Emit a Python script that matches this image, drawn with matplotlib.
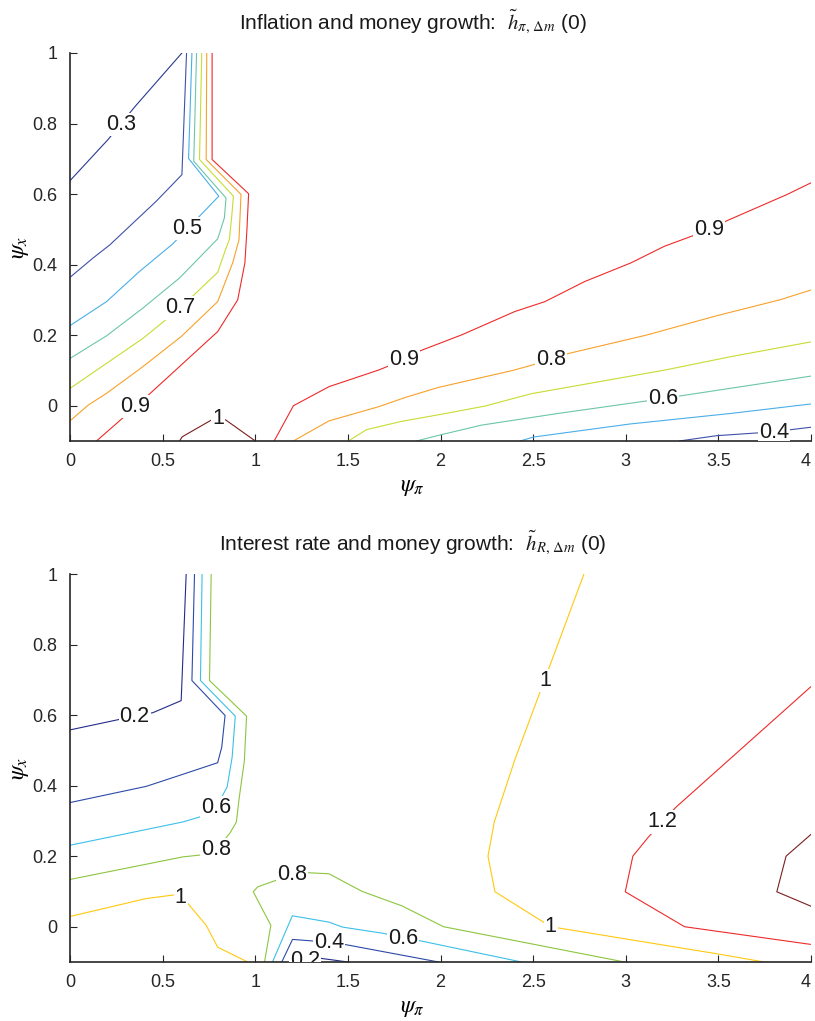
import matplotlib
matplotlib.use('Agg')
import matplotlib.pyplot as plt

plt.rcParams['font.family'] = ['Liberation Sans', 'DejaVu Sans']
plt.rcParams['mathtext.fontset'] = 'stix'

# ---- top panel: inflation and money growth, contour lines
top_levels = [0.3, 0.4, 0.5, 0.6, 0.7, 0.8, 0.9, 1.0]
top_colors = ['#2b3990', '#3f51a8', '#4aaee8', '#6cc6a8', '#c8dc32', '#f9a12a', '#ee2a2a', '#7b1f1f']

top_03_x = [0, 0.206, 0.349, 0.604]
top_03_y = [0.638, 0.755, 0.847, 1.0]
top_04a_x = [0.629, 0.604, 0.466, 0.215, 0.125, 0]
top_04a_y = [1.0, 0.655, 0.58, 0.456, 0.419, 0.364]
top_04b_x = [3.29, 3.49, 3.8, 3.89, 4.0]
top_04b_y = [-0.1, -0.085, -0.074, -0.068, -0.061]
top_05a_x = [0.658, 0.640, 0.803, 0.717, 0.633, 0.555, 0.376, 0.197, 0]
top_05a_y = [1.0, 0.701, 0.594, 0.547, 0.502, 0.459, 0.381, 0.295, 0.227]
top_05b_x = [2.43, 2.5, 3.02, 3.566, 4.0]
top_05b_y = [-0.1, -0.089, -0.052, -0.022, 0.005]
top_06a_x = [0.683, 0.668, 0.842, 0.833, 0.797, 0.591, 0.394, 0.197, 0]
top_06a_y = [1.0, 0.693, 0.589, 0.532, 0.473, 0.362, 0.277, 0.198, 0.134]
top_06b_x = [1.87, 2.005, 2.222, 2.634, 3.2, 3.297, 4.0]
top_06b_y = [-0.1, -0.082, -0.055, -0.022, 0.02, 0.028, 0.084]
top_07a_x = [0.711, 0.699, 0.882, 0.873, 0.86, 0.839, 0.797, 0.595, 0.394, 0.197, 0]
top_07a_y = [1.0, 0.698, 0.594, 0.537, 0.471, 0.442, 0.378, 0.277, 0.191, 0.12, 0.049]
top_07b_x = [1.503, 1.60, 1.784, 2.007, 2.24, 2.49, 3.21, 3.566, 4.0]
top_07b_y = [-0.1, -0.068, -0.045, -0.024, -0.001, 0.034, 0.101, 0.139, 0.181]
top_08a_x = [0.738, 0.735, 0.923, 0.912, 0.878, 0.797, 0.6, 0.394, 0.197, 0.099, 0]
top_08a_y = [1.0, 0.698, 0.599, 0.47, 0.405, 0.295, 0.196, 0.111, 0.035, 0.002, -0.043]
top_08b_x = [1.206, 1.398, 1.665, 1.813, 1.99, 2.39, 2.596, 2.69, 3.11, 3.49, 3.83, 4.0]
top_08b_y = [-0.1, -0.043, -0.003, 0.024, 0.052, 0.1, 0.13, 0.148, 0.2, 0.255, 0.3, 0.328]
top_09a_x = [0.767, 0.767, 0.964, 0.955, 0.944, 0.905, 0.797, 0.591, 0.354, 0.143]
top_09a_y = [1.0, 0.698, 0.601, 0.5, 0.405, 0.3, 0.21, 0.111, -0.003, -0.1]
top_09b_x = [1.102, 1.206, 1.398, 1.665, 1.803, 1.892, 2.115, 2.401, 2.563, 2.778, 3.028, 3.208, 3.45, 3.548, 3.871, 4.0]
top_09b_y = [-0.1, 0.0, 0.054, 0.101, 0.13, 0.156, 0.201, 0.267, 0.295, 0.352, 0.405, 0.452, 0.499, 0.525, 0.599, 0.632]
top_10_x = [0.591, 0.606, 0.762, 0.80, 0.842, 1.0]
top_10_y = [-0.1, -0.088, -0.041, -0.03, -0.041, -0.1]

top_lines = [
    (0.3, top_03_x, top_03_y), (0.4, top_04a_x, top_04a_y), (0.4, top_04b_x, top_04b_y),
    (0.5, top_05a_x, top_05a_y), (0.5, top_05b_x, top_05b_y),
    (0.6, top_06a_x, top_06a_y), (0.6, top_06b_x, top_06b_y),
    (0.7, top_07a_x, top_07a_y), (0.7, top_07b_x, top_07b_y),
    (0.8, top_08a_x, top_08a_y), (0.8, top_08b_x, top_08b_y),
    (0.9, top_09a_x, top_09a_y), (0.9, top_09b_x, top_09b_y),
    (1.0, top_10_x, top_10_y),
]
top_label_x = [0.278, 0.633, 0.595, 0.354, 0.80, 1.803, 2.596, 3.45, 3.2, 3.80]
top_label_y = [0.797, 0.502, 0.277, -0.003, -0.036, 0.13, 0.13, 0.499, 0.02, -0.075]
top_label_t = ['0.3', '0.5', '0.7', '0.9', '1', '0.9', '0.8', '0.9', '0.6', '0.4']

# ---- bottom panel: interest rate and money growth
bot_levels = [0.2, 0.4, 0.6, 0.8, 1.0, 1.2, 1.4]
bot_colors = ['#232c8a', '#2c4aa8', '#3cc0e8', '#8cc63f', '#ffc90e', '#ee2a2a', '#7b1f1f']

bot_02a_x = [0, 0.26, 0.349, 0.448, 0.6, 0.612, 0.627]
bot_02a_y = [0.558, 0.587, 0.596, 0.607, 0.641, 0.8, 1.0]
bot_02b_x = [1.22, 1.25, 1.344, 1.5]
bot_02b_y = [-0.1, -0.088, -0.089, -0.1]
bot_04a_x = [0.672, 0.658, 0.837, 0.819, 0.797, 0.591, 0.412, 0]
bot_04a_y = [1.0, 0.698, 0.599, 0.509, 0.465, 0.429, 0.398, 0.352]
bot_04b_x = [1.143, 1.201, 1.3, 1.398, 1.49, 1.989]
bot_04b_y = [-0.1, -0.036, -0.04, -0.045, -0.051, -0.1]
bot_06a_x = [0.713, 0.704, 0.892, 0.875, 0.848, 0.789, 0.699, 0.609, 0]
bot_06a_y = [1.0, 0.698, 0.597, 0.48, 0.396, 0.339, 0.311, 0.297, 0.231]
bot_06b_x = [1.093, 1.2, 1.398, 1.47, 1.694, 1.796, 1.891, 2.437]
bot_06b_y = [-0.1, 0.031, 0.013, -0.001, -0.019, -0.033, -0.04, -0.1]
bot_08a_x = [0.762, 0.753, 0.953, 0.941, 0.914, 0.898, 0.864, 0.79, 0.699, 0.609, 0]
bot_08a_y = [1.0, 0.698, 0.597, 0.47, 0.368, 0.297, 0.266, 0.219, 0.203, 0.198, 0.134]
bot_08b_x = [1.05, 1.084, 0.989, 1.013, 1.2, 1.29, 1.398, 1.577, 1.792, 2.016, 2.993]
bot_08b_y = [-0.1, 0.004, 0.099, 0.113, 0.148, 0.153, 0.15, 0.1, 0.059, 0.0, -0.1]
bot_10a_x = [0, 0.412, 0.56, 0.636, 0.735, 0.797, 0.959]
bot_10a_y = [0.029, 0.08, 0.09, 0.066, 0.004, -0.058, -0.1]
bot_10b_x = [2.774, 2.40, 2.29, 2.256, 2.294, 2.595, 3.495, 3.746]
bot_10b_y = [1.0, 0.472, 0.297, 0.2, 0.099, 0.0, -0.077, -0.1]
bot_12_x = [4.0, 3.271, 3.195, 3.12, 3.038, 2.997, 3.317, 3.996]
bot_12_y = [0.681, 0.339, 0.297, 0.253, 0.2, 0.099, 0.0, -0.05]
bot_14_x = [4.0, 3.865, 3.815, 4.0]
bot_14_y = [0.262, 0.2, 0.099, 0.058]

bot_lines = [
    (0.2, bot_02a_x, bot_02a_y), (0.2, bot_02b_x, bot_02b_y),
    (0.4, bot_04a_x, bot_04a_y), (0.4, bot_04b_x, bot_04b_y),
    (0.6, bot_06a_x, bot_06a_y), (0.6, bot_06b_x, bot_06b_y),
    (0.8, bot_08a_x, bot_08a_y), (0.8, bot_08b_x, bot_08b_y),
    (1.0, bot_10a_x, bot_10a_y), (1.0, bot_10b_x, bot_10b_y),
    (1.2, bot_12_x, bot_12_y), (1.4, bot_14_x, bot_14_y),
]
bot_label_x = [0.349, 0.789, 0.79, 0.597, 1.2, 1.398, 1.27, 1.796, 2.563, 2.595, 3.195]
bot_label_y = [0.596, 0.339, 0.219, 0.083, 0.148, -0.044, -0.097, -0.033, 0.698, 0.0, 0.297]
bot_label_t = ['0.2', '0.6', '0.8', '1', '0.8', '0.4', '0.2', '0.6', '1', '1', '1.2']

x_ticks = [0, 0.5, 1, 1.5, 2, 2.5, 3, 3.5, 4]
x_ticklabels = ['0', '0.5', '1', '1.5', '2', '2.5', '3', '3.5', '4']
y_ticks = [0, 0.2, 0.4, 0.6, 0.8, 1]
y_ticklabels = ['0', '0.2', '0.4', '0.6', '0.8', '1']

titles = [r'Inflation and money growth:  $\tilde{h}_{\pi,\,\Delta m}$ (0)',
          r'Interest rate and money growth:  $\tilde{h}_{R,\,\Delta m}$ (0)']

fig = plt.figure(figsize=(8.15, 10.21), dpi=100)
ax1 = fig.add_axes([0.0859, 0.5681, 0.9093, 0.3800])
ax2 = fig.add_axes([0.0859, 0.0578, 0.9093, 0.3800])


def draw_panel(ax, lines, levels, colors, lx, ly, lt, title):
    for lev, xs, ys in lines:
        ax.plot(xs, ys, color=colors[levels.index(lev)], lw=0.8)
    for x, y, t in zip(lx, ly, lt):
        ax.text(x, y, t, fontsize=15.5, ha='center', va='center', color='#1a1a1a',
                bbox=dict(facecolor='white', edgecolor='none', pad=0.8), clip_on=True)
    ax.set_xlim(0, 4)
    ax.set_ylim(-0.1, 1)
    ax.set_xticks(x_ticks)
    ax.set_xticklabels(x_ticklabels)
    ax.set_yticks(y_ticks)
    ax.set_yticklabels(y_ticklabels)
    ax.get_xticklabels()[-1].set_horizontalalignment('right')
    ax.spines['top'].set_visible(False)
    ax.spines['right'].set_visible(False)
    for s in ['left', 'bottom']:
        ax.spines[s].set_linewidth(1.2)
        ax.spines[s].set_color('#262626')
    ax.tick_params(direction='in', length=5, width=0.8, labelsize=13, pad=9,
                   colors='#262626')
    ax.set_xlabel(r'$\psi_\pi$', fontsize=17)
    ax.set_ylabel(r'$\psi_x$', fontsize=17)
    ax.xaxis.set_label_coords(0.462, -0.09)
    ax.yaxis.set_label_coords(-0.052, 0.5)
    ax.set_title(title, fontsize=15, x=0.463, pad=17, color='#1a1a1a')


draw_panel(ax1, top_lines, top_levels, top_colors, top_label_x, top_label_y, top_label_t, titles[0])
draw_panel(ax2, bot_lines, bot_levels, bot_colors, bot_label_x, bot_label_y, bot_label_t, titles[1])

fig.savefig('out.png', dpi=100)
